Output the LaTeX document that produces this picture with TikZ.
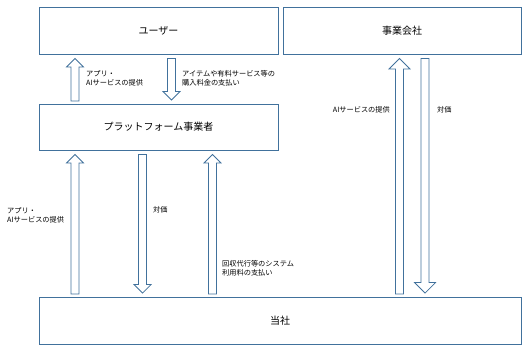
\documentclass[tikz,border=0pt]{standalone}
\usepackage{fontspec}
\newfontfamily\jpfont{Noto Sans CJK JP}
\usetikzlibrary{calc}
\definecolor{boxblue}{RGB}{65,113,156}

% hollow block arrows between two boxes: x, upper node, lower node, head size
\newcommand{\uparr}[4]{%
  \draw[blk] let \p1=(#2.south), \p2=(#3.north) in
    (#1bp-4bp,\y2+2.5bp) -- (#1bp-4bp,\y1-4bp-#4bp) -- (#1bp-#4bp,\y1-4bp-#4bp)
    -- (#1bp,\y1-4bp) -- (#1bp+#4bp,\y1-4bp-#4bp) -- (#1bp+4bp,\y1-4bp-#4bp)
    -- (#1bp+4bp,\y2+2.5bp) -- cycle;}
\newcommand{\downarr}[4]{%
  \draw[blk] let \p1=(#2.south), \p2=(#3.north) in
    (#1bp-4bp,\y1-4bp) -- (#1bp-4bp,\y2+3.5bp+#4bp) -- (#1bp-#4bp,\y2+3.5bp+#4bp)
    -- (#1bp,\y2+3.5bp) -- (#1bp+#4bp,\y2+3.5bp+#4bp) -- (#1bp+4bp,\y2+3.5bp+#4bp)
    -- (#1bp+4bp,\y1-4bp) -- cycle;}

\begin{document}
\begin{tikzpicture}[
  x=1bp, y=-1bp,
  box/.style={draw=boxblue, line width=0.9pt, inner sep=0pt,
    font=\jpfont\fontsize{10bp}{12bp}\selectfont},
  lbl/.style={inner sep=0pt, align=left,
    font=\jpfont\fontsize{7.2bp}{9bp}\selectfont},
  blk/.style={draw=boxblue, line width=0.8pt, line join=miter}
]
\useasboundingbox (0,0) rectangle (528,351);

\node[box, minimum width=239bp, minimum height=47bp] (user) at (158.5,30.5) {ユーザー};
\node[box, minimum width=238bp, minimum height=47bp] (firm) at (402,30.5) {事業会社};
\node[box, minimum width=239bp, minimum height=46bp] (plat) at (158.5,127) {プラットフォーム事業者};
\node[box, minimum width=482bp, minimum height=47bp] (tosha) at (280,320.5) {当社};

% user <-> platform
\uparr{75}{user}{plat}{8.5}
\downarr{171.5}{user}{plat}{8.5}
\node[lbl, anchor=west] (provide1) at (86,78) {アプリ・\\AIサービスの提供};
\node[lbl, anchor=west] (pay1) at (182,78) {アイテムや有料サービス等の\\購入料金の支払い};

% platform <-> tosha
\uparr{75}{plat}{tosha}{8.5}
\downarr{142.5}{plat}{tosha}{8.5}
\uparr{212.5}{plat}{tosha}{8.5}
\node[lbl, anchor=west] (provide2) at (7,215) {アプリ・\\AIサービスの提供};
\node[lbl, anchor=west] (fee2) at (153,210) {対価};
\node[lbl, anchor=west] (sysfee) at (222,268) {回収代行等のシステム\\利用料の支払い};

% firm <-> tosha
\uparr{399.5}{firm}{tosha}{10.5}
\downarr{425}{firm}{tosha}{10.5}
\node[lbl, anchor=east] (provide3) at (390,110) {AIサービスの提供};
\node[lbl, anchor=west] (fee3) at (437,110) {対価};
\end{tikzpicture}
\end{document}
